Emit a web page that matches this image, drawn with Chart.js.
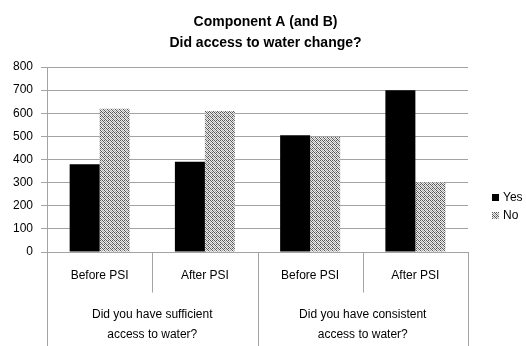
<!DOCTYPE html>
<html>
<head>
<meta charset="utf-8">
<script src="https://cdn.jsdelivr.net/npm/chart.js@4.4.1/dist/chart.umd.min.js"></script>
<style>
  html, body { margin: 0; padding: 0; background: #fff; }
  #wrap { width: 526px; height: 346px; }
</style>
</head>
<body>
<div id="wrap"><canvas id="c" width="526" height="346"></canvas></div>
<script>
// Survey answers, before and after PSI
const periods = ['Before PSI', 'After PSI', 'Before PSI', 'After PSI'];
const questions = [
  ['Did you have sufficient', 'access to water?'],
  ['Did you have consistent', 'access to water?']
];
const seriesNames = ['Yes', 'No'];
const yesValues = [380, 390, 505, 700];
const noValues = [620, 610, 497, 302];
const yTicks = [0, 100, 200, 300, 400, 500, 600, 700, 800];

const FONT = '"Liberation Sans", Arial, sans-serif';
const GRID = '#a3a3a3';

// Stippled grey fill used for the "No" series
function makeStipple() {
  const p = document.createElement('canvas');
  p.width = 4; p.height = 4;
  const g = p.getContext('2d');
  const D = '#5a5a5a', L = '#ececec', M = '#a8a8a8';
  const cells = [
    [D, L, D, L],
    [L, M, L, D],
    [D, L, M, L],
    [L, D, L, M]
  ];
  cells.forEach((row, y) => row.forEach((c, x) => { g.fillStyle = c; g.fillRect(x, y, 1, 1); }));
  return g.createPattern(p, 'repeat');
}
const stipple = makeStipple();

// Two-level category axis and side legend
const decorations = {
  id: 'decorations',
  afterDraw(chart) {
    const ctx = chart.ctx;
    const xs = chart.scales.x;
    const area = chart.chartArea;
    const n = periods.length;
    const step = (xs.right - xs.left) / n;
    const bottom = Math.round(area.bottom) + 0.5;
    ctx.save();
    ctx.strokeStyle = GRID;
    ctx.lineWidth = 1;
    for (let i = 0; i <= n; i++) {
      const x = Math.round(xs.left + i * step) + 0.5;
      const groupEdge = (i % 2 === 0);
      ctx.beginPath();
      ctx.moveTo(x, bottom);
      ctx.lineTo(x, groupEdge ? chart.height : bottom + 40);
      ctx.stroke();
    }
    ctx.fillStyle = '#000';
    ctx.font = '12px ' + FONT;
    ctx.textAlign = 'center';
    ctx.textBaseline = 'middle';
    periods.forEach((lab, i) => {
      ctx.fillText(lab, xs.getPixelForValue(i), bottom + 23);
    });
    questions.forEach((lines, g) => {
      const cx = (xs.getPixelForValue(g * 2) + xs.getPixelForValue(g * 2 + 1)) / 2;
      lines.forEach((ln, k) => ctx.fillText(ln, cx, bottom + 62 + k * 20));
    });
    // legend
    ctx.textAlign = 'left';
    chart.data.datasets.forEach((ds, i) => {
      const y = 198 + i * 18;
      ctx.fillStyle = ds.backgroundColor;
      ctx.fillRect(492, y - 4, 7, 7);
      ctx.fillStyle = '#000';
      ctx.fillText(ds.label, 503, y);
    });
    ctx.restore();
  }
};

new Chart(document.getElementById('c'), {
  type: 'bar',
  data: {
    labels: periods,
    datasets: [
      { label: seriesNames[0], data: yesValues, backgroundColor: '#000000' },
      { label: seriesNames[1], data: noValues, backgroundColor: stipple }
    ]
  },
  options: {
    responsive: false,
    animation: false,
    devicePixelRatio: 1,
    layout: { padding: { left: 5, right: 0, top: 0, bottom: 94 } },
    datasets: { bar: { barPercentage: 1.0, categoryPercentage: 0.57 } },
    plugins: {
      legend: { display: false },
      tooltip: { enabled: false },
      title: {
        display: true,
        text: ['Component A (and B)', 'Did access to water change?'],
        color: '#000',
        font: { family: FONT, size: 14, weight: 'bold', lineHeight: 1.5 },
        padding: { top: 12, bottom: 13 }
      }
    },
    scales: {
      x: {
        grid: { display: false, drawTicks: false },
        border: { display: true, color: GRID },
        ticks: { display: false }
      },
      y: {
        min: 0,
        max: 800,
        afterBuildTicks(axis) { axis.ticks = yTicks.map(v => ({ value: v })); },
        grid: { color: GRID, tickLength: 6 },
        border: { color: GRID },
        ticks: { color: '#000', padding: 8, font: { family: FONT, size: 12 } }
      },
      // empty column on the right that holds the legend
      legendSpace: {
        type: 'linear',
        position: 'right',
        display: true,
        grid: { display: false, drawTicks: false },
        border: { display: false },
        ticks: { display: false },
        afterFit(axis) { axis.width = 58; }
      }
    }
  },
  plugins: [decorations]
});
</script>
</body>
</html>
